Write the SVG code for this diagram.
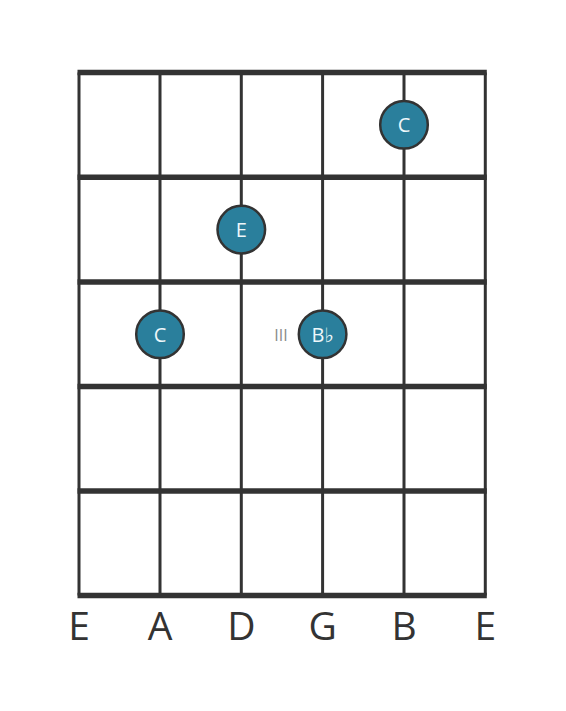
<svg xmlns="http://www.w3.org/2000/svg" width="566" height="711" viewBox="0 0 566 711">
<style>
.string{stroke:#333;stroke-width:3}
.fret{stroke:#333;stroke-width:5.5}
.dot{fill:#2a7f9c;stroke:#333;stroke-width:2.5}
.dl{font-family:"Open Sans","DejaVu Sans",sans-serif;font-size:20px;fill:#eef7fa;text-anchor:middle;dominant-baseline:central}
.sl{font-family:"Open Sans","DejaVu Sans",sans-serif;font-size:39px;fill:#333;text-anchor:middle}
.fn{font-family:"Open Sans","DejaVu Sans",sans-serif;font-size:16px;fill:#8a8a8a;text-anchor:middle;dominant-baseline:central}
</style>
<rect width="566" height="711" fill="#fff"/>
<g id="grid">
<line class="string" x1="79" y1="72.5" x2="79" y2="595.5"/>
<line class="string" x1="160" y1="72.5" x2="160" y2="595.5"/>
<line class="string" x1="241.3" y1="72.5" x2="241.3" y2="595.5"/>
<line class="string" x1="322.6" y1="72.5" x2="322.6" y2="595.5"/>
<line class="string" x1="404" y1="72.5" x2="404" y2="595.5"/>
<line class="string" x1="485.3" y1="72.5" x2="485.3" y2="595.5"/>
<line class="fret" x1="77.5" y1="72.5" x2="486.8" y2="72.5"/>
<line class="fret" x1="77.5" y1="177.3" x2="486.8" y2="177.3"/>
<line class="fret" x1="77.5" y1="282" x2="486.8" y2="282"/>
<line class="fret" x1="77.5" y1="386.5" x2="486.8" y2="386.5"/>
<line class="fret" x1="77.5" y1="491" x2="486.8" y2="491"/>
<line class="fret" x1="77.5" y1="595.5" x2="486.8" y2="595.5"/>
</g>
<g id="dot-C1">
<circle class="dot" cx="404" cy="124.8" r="23.8"/>
<text class="dl" x="404" y="124.8">C</text>
</g>
<g id="dot-E">
<circle class="dot" cx="241.3" cy="229.6" r="23.8"/>
<text class="dl" x="241.3" y="229.6">E</text>
</g>
<g id="dot-C2">
<circle class="dot" cx="160" cy="334.2" r="23.8"/>
<text class="dl" x="160" y="334.2">C</text>
</g>
<g id="dot-Bb">
<circle class="dot" cx="322.6" cy="334.2" r="23.8"/>
<text class="dl" x="322.6" y="334.2">B♭</text>
</g>
<g id="fret-number">
<text class="fn" x="281" y="334.5">III</text>
</g>
<g id="string-labels">
<text class="sl" x="79" y="640">E</text>
<text class="sl" x="160" y="640">A</text>
<text class="sl" x="241.3" y="640">D</text>
<text class="sl" x="322.6" y="640">G</text>
<text class="sl" x="404" y="640">B</text>
<text class="sl" x="485.3" y="640">E</text>
</g>
</svg>
